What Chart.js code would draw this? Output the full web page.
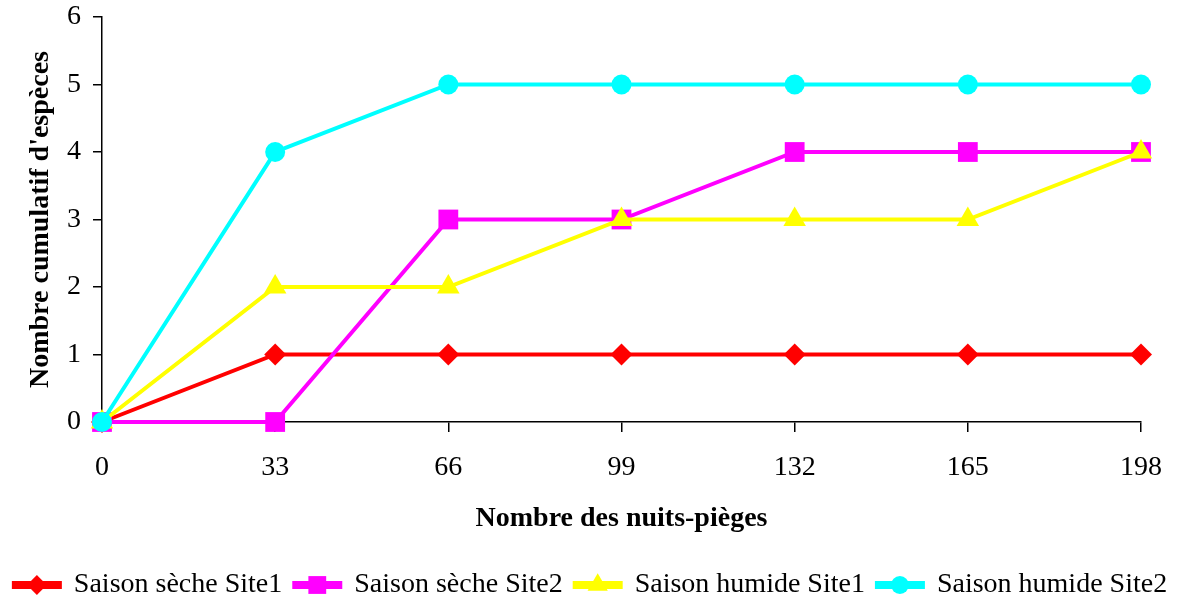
<!DOCTYPE html>
<html>
<head>
<meta charset="utf-8">
<script src="https://cdn.jsdelivr.net/npm/chart.js@4"></script>
<style>
  html, body { margin: 0; padding: 0; background: #fff; }
  #wrap { width: 1181px; height: 603px; }
</style>
</head>
<body>
<div id="wrap"><canvas id="curveChart"></canvas></div>
<script>
// Data
const nuits = ['0', '33', '66', '99', '132', '165', '198'];
const secheSite1 = [0, 1, 1, 1, 1, 1, 1];
const secheSite2 = [0, 0, 3, 3, 4, 4, 4];
const humideSite1 = [0, 2, 2, 3, 3, 3, 4];
const humideSite2 = [0, 4, 5, 5, 5, 5, 5];
const yTicks = [0, 1, 2, 3, 4, 5, 6];

const serif = "'Liberation Serif', 'Times New Roman', serif";

function serie(label, data, color, style, radius, order) {
  return {
    label: label,
    data: data,
    borderColor: color,
    backgroundColor: color,
    pointBackgroundColor: color,
    pointBorderColor: color,
    pointStyle: style,
    pointRadius: radius,
    pointHoverRadius: radius,
    borderWidth: 4,
    pointBorderWidth: 0,
    tension: 0,
    clip: false,
    order: order
  };
}

// draw marker on top of the legend line
const legendMarkers = {
  id: 'legendMarkers',
  afterDraw(chart) {
    const legend = chart.legend;
    if (!legend || !legend.legendHitBoxes) return;
    const ctx = chart.ctx;
    const bw = legend.options.labels.boxWidth;
    legend.legendHitBoxes.forEach((box, i) => {
      const ds = chart.data.datasets[legend.legendItems[i].datasetIndex];
      const cx = box.left + bw / 2;
      const cy = box.top + box.height / 2;
      ctx.save();
      ctx.fillStyle = ds.backgroundColor;
      ctx.strokeStyle = ds.borderColor;
      Chart.helpers.drawPoint(ctx, {
        pointStyle: ds.pointStyle,
        radius: ds.pointRadius * 0.9,
        rotation: 0,
        borderWidth: 0
      }, cx, cy);
      ctx.restore();
    });
  }
};

const ctx = document.getElementById('curveChart').getContext('2d');
const curveChart = new Chart(ctx, {
  type: 'line',
  data: {
    labels: nuits,
    datasets: [
      serie('Saison sèche Site1', secheSite1, '#FF0000', 'rectRot', 11, 3),
      serie('Saison sèche Site2', secheSite2, '#FF00FF', 'rect', 14, 2),
      serie('Saison humide Site1', humideSite1, '#FFFF00', 'triangle', 13, 1),
      serie('Saison humide Site2', humideSite2, '#00FFFF', 'circle', 10, 0)
    ]
  },
  options: {
    responsive: true,
    maintainAspectRatio: false,
    animation: false,
    layout: { padding: { top: 0, right: 0, left: 0, bottom: -6 } },
    plugins: {
      legend: {
        position: 'bottom',
        labels: {
          font: { family: serif, size: 28 },
          color: '#000',
          boxWidth: 46,
          boxHeight: 4,
          padding: 12,
          sort: (a, b) => a.datasetIndex - b.datasetIndex
        }
      },
      tooltip: { enabled: false }
    },
    scales: {
      x: {
        offset: false,
        grid: { drawOnChartArea: false, drawTicks: true, tickLength: 10, color: '#000', lineWidth: 1.5 },
        border: { color: '#000', width: 1.5 },
        ticks: { font: { family: serif, size: 28 }, color: '#000', padding: 19, maxRotation: 0 },
        title: {
          display: true,
          text: 'Nombre des nuits-pièges',
          font: { family: serif, size: 28, weight: 'bold' },
          color: '#000',
          padding: { top: 8, bottom: 23 }
        },
        afterFit(s) { s.height = 137; s.paddingRight = 40; s.paddingLeft = 0; }
      },
      y: {
        min: 0,
        max: 6,
        afterBuildTicks(s) { s.ticks = yTicks.map(v => ({ value: v })); },
        grid: { drawOnChartArea: false, drawTicks: true, tickLength: 9, color: '#000', lineWidth: 1.5 },
        border: { color: '#000', width: 1.5 },
        ticks: { font: { family: serif, size: 28 }, color: '#000', padding: 12 },
        title: {
          display: true,
          text: "Nombre cumulatif d'espèces",
          font: { family: serif, size: 28, weight: 'bold' },
          color: '#000',
          padding: { top: 24, bottom: 0 }
        },
        afterFit(s) { s.width = 102; s.paddingTop = 17; s.paddingBottom = 0; }
      }
    }
  },
  plugins: [legendMarkers]
});
</script>
</body>
</html>
